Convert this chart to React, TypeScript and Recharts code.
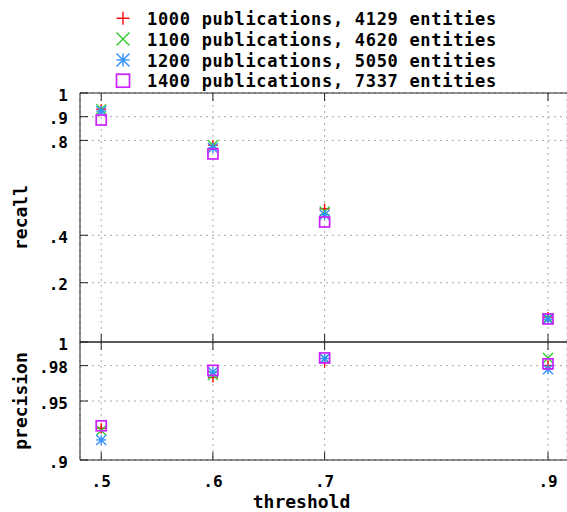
import React from "react";
import { ScatterChart, Scatter, XAxis, YAxis, CartesianGrid, ReferenceLine } from "recharts";

const thresholds = [0.5, 0.6, 0.7, 0.9];

const seriesLabels = [
  "1000 publications, 4129 entities",
  "1100 publications, 4620 entities",
  "1200 publications, 5050 entities",
  "1400 publications, 7337 entities",
];

const recall1000 = [0.932, 0.78, 0.512, 0.055];
const recall1100 = [0.932, 0.78, 0.5, 0.051];
const recall1200 = [0.924, 0.768, 0.487, 0.046];
const recall1400 = [0.886, 0.743, 0.456, 0.047];

const precision1000 = [0.927, 0.97, 0.9826, 0.98];
const precision1100 = [0.925, 0.972, 0.986, 0.9865];
const precision1200 = [0.917, 0.9745, 0.986, 0.977];
const precision1400 = [0.929, 0.976, 0.9865, 0.9815];

const recallTicks = [0.2, 0.4, 0.8, 0.9, 1];
const precisionTicks = [0.9, 0.95, 0.98, 1];

const COLORS = ["#ff0000", "#33cc33", "#2f8fff", "#cc22ff"];
const FONT = '"DejaVu Sans Mono", "Liberation Mono", monospace';
const AXIS = "#222";
const GRID = "#a8a8a8";
const TICK_LEN = 8;
const X_DOMAIN: [number, number] = [0.481, 0.917];

// plot heights of the two panels
const TOP_H = 249;
const BOT_H = 118;

const toPoints = (ys: number[]) => thresholds.map((x, i) => ({ x, y: ys[i] }));

const recallSeries = [recall1000, recall1100, recall1200, recall1400].map(toPoints);
const precisionSeries = [precision1000, precision1100, precision1200, precision1400].map(toPoints);

const fmt = (v: number) => (v >= 1 ? "1" : String(v).replace(/^0/, ""));

function Marker({ kind, cx, cy, color, r = 5 }: { kind: number; cx: number; cy: number; color: string; r?: number }) {
  if (cx == null || cy == null) return null;
  const sw = 1.4;
  if (kind === 0) {
    return (
      <g stroke={color} strokeWidth={sw}>
        <line x1={cx - r} y1={cy} x2={cx + r} y2={cy} />
        <line x1={cx} y1={cy - r} x2={cx} y2={cy + r} />
      </g>
    );
  }
  if (kind === 1) {
    return (
      <g stroke={color} strokeWidth={sw}>
        <line x1={cx - r} y1={cy - r} x2={cx + r} y2={cy + r} />
        <line x1={cx - r} y1={cy + r} x2={cx + r} y2={cy - r} />
      </g>
    );
  }
  if (kind === 2) {
    return (
      <g stroke={color} strokeWidth={sw}>
        <line x1={cx - r} y1={cy} x2={cx + r} y2={cy} />
        <line x1={cx} y1={cy - r} x2={cx} y2={cy + r} />
        <line x1={cx - r} y1={cy - r} x2={cx + r} y2={cy + r} />
        <line x1={cx - r} y1={cy + r} x2={cx + r} y2={cy - r} />
      </g>
    );
  }
  return <rect x={cx - r} y={cy - r} width={2 * r} height={2 * r} fill="none" stroke={color} strokeWidth={sw + 0.3} />;
}

const yTick = (props: any) => {
  const { x, y, payload } = props;
  return (
    <g>
      <line x1={x} y1={y} x2={x + TICK_LEN} y2={y} stroke={AXIS} />
      <text x={x - 12} y={y + 7.5} textAnchor="end" fontFamily={FONT} fontWeight="bold" fontSize={16} fill="#000">
        {fmt(payload.value)}
      </text>
    </g>
  );
};

const topXTick = (props: any) => {
  const { x, y } = props;
  return (
    <g stroke={AXIS}>
      <line x1={x} y1={y} x2={x} y2={y - TICK_LEN} />
      <line x1={x} y1={y - TOP_H} x2={x} y2={y - TOP_H + TICK_LEN} />
    </g>
  );
};

const bottomXTick = (props: any) => {
  const { x, y, payload } = props;
  return (
    <g>
      <line x1={x} y1={y} x2={x} y2={y - TICK_LEN} stroke={AXIS} />
      <line x1={x} y1={y - BOT_H} x2={x} y2={y - BOT_H + TICK_LEN} stroke={AXIS} />
      <text x={x} y={y + 27} textAnchor="middle" fontFamily={FONT} fontWeight="bold" fontSize={16} fill="#000">
        {fmt(payload.value)}
      </text>
    </g>
  );
};

const yLabel = (text: string) => (props: any) => {
  const vb = props.viewBox || { x: 0, y: 0, width: 80, height: 0 };
  const cx = vb.x + 27;
  const cy = vb.y + vb.height / 2;
  return (
    <text
      x={cx}
      y={cy}
      transform={`rotate(-90, ${cx}, ${cy})`}
      textAnchor="middle"
      fontFamily={FONT}
      fontWeight="bold"
      fontSize={18}
      fill="#000"
    >
      {text}
    </text>
  );
};

const xLabel = (props: any) => {
  const vb = props.viewBox || { x: 80, y: 0, width: 487, height: 52 };
  return (
    <text
      x={vb.x + vb.width / 2 - 22}
      y={vb.y + vb.height - 4}
      textAnchor="middle"
      fontFamily={FONT}
      fontWeight="bold"
      fontSize={18}
      fill="#000"
    >
      threshold
    </text>
  );
};

function LegendBox() {
  return (
    <svg width={567} height={95} style={{ position: "absolute", left: 0, top: 0 }}>
      {seriesLabels.map((label, i) => {
        const base = 25 + i * 20.8;
        return (
          <g key={label}>
            <Marker kind={i} cx={123} cy={base - 6.7} color={COLORS[i]} r={6.5} />
            <text
              x={147}
              y={base}
              fontFamily={FONT}
              fontWeight="bold"
              fontSize={17}
              letterSpacing={0.7}
              fill="#000"
            >
              {label}
            </text>
          </g>
        );
      })}
    </svg>
  );
}

export default function App() {
  return (
    <div style={{ position: "absolute", left: 0, top: 0, width: 567, height: 512, background: "#fff" }}>
      <div style={{ position: "absolute", left: 0, top: 0 }}>
        <ScatterChart width={567} height={350} margin={{ top: 93, right: 0, bottom: 0, left: 0 }}>
          <CartesianGrid stroke={GRID} strokeDasharray="2 4" />
          <XAxis
            type="number"
            dataKey="x"
            domain={X_DOMAIN}
            allowDataOverflow
            ticks={thresholds}
            height={8}
            axisLine={{ stroke: AXIS }}
            tickLine={false}
            tickSize={0}
            tickMargin={0}
            tick={topXTick}
          />
          <YAxis
            type="number"
            dataKey="y"
            domain={[-0.05, 1]}
            allowDataOverflow
            ticks={recallTicks}
            width={80}
            axisLine={{ stroke: AXIS }}
            tickLine={false}
            tickSize={0}
            tickMargin={0}
            tick={yTick}
            label={{ content: yLabel("recall") }}
          />
          <ReferenceLine y={1} stroke={AXIS} />
          {recallSeries.map((d, i) => (
            <Scatter
              key={seriesLabels[i]}
              data={d}
              isAnimationActive={false}
              shape={(p: any) => <Marker kind={i} cx={p.cx} cy={p.cy} color={COLORS[i]} />}
            />
          ))}
        </ScatterChart>
      </div>
      <div style={{ position: "absolute", left: 0, top: 330 }}>
        <ScatterChart width={567} height={182} margin={{ top: 12, right: 0, bottom: 0, left: 0 }}>
          <CartesianGrid stroke={GRID} strokeDasharray="2 4" />
          <XAxis
            type="number"
            dataKey="x"
            domain={X_DOMAIN}
            allowDataOverflow
            ticks={thresholds}
            height={52}
            axisLine={{ stroke: AXIS }}
            tickLine={false}
            tickSize={0}
            tickMargin={0}
            tick={bottomXTick}
            label={{ content: xLabel }}
          />
          <YAxis
            type="number"
            dataKey="y"
            domain={[0.9, 1]}
            allowDataOverflow
            ticks={precisionTicks}
            width={80}
            axisLine={{ stroke: AXIS }}
            tickLine={false}
            tickSize={0}
            tickMargin={0}
            tick={yTick}
            label={{ content: yLabel("precision") }}
          />
          <ReferenceLine y={1} stroke={AXIS} />
          {precisionSeries.map((d, i) => (
            <Scatter
              key={seriesLabels[i]}
              data={d}
              isAnimationActive={false}
              shape={(p: any) => <Marker kind={i} cx={p.cx} cy={p.cy} color={COLORS[i]} />}
            />
          ))}
        </ScatterChart>
      </div>
      <LegendBox />
    </div>
  );
}
